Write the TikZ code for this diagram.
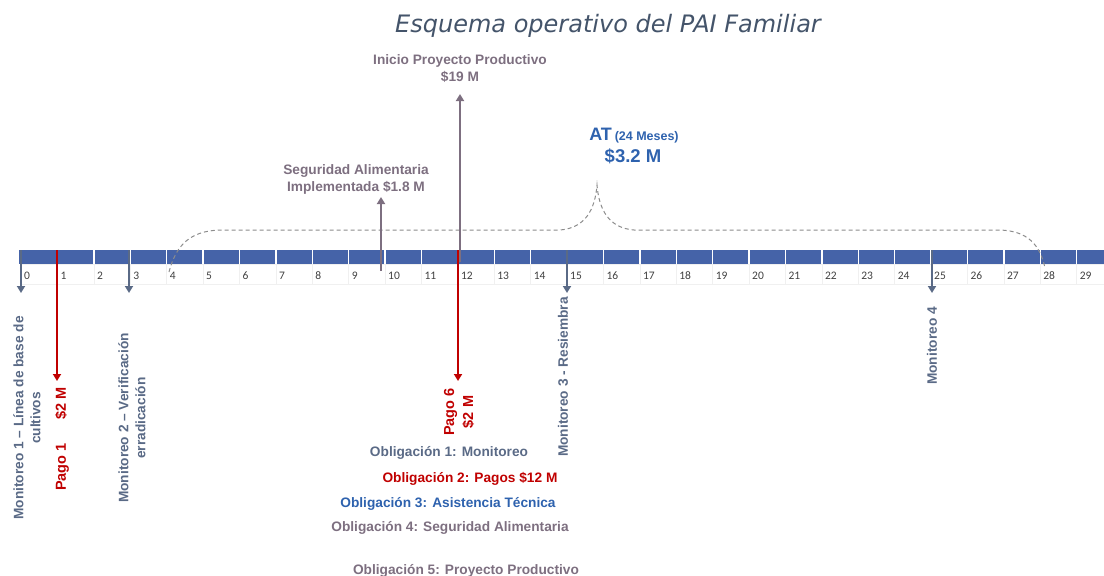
\documentclass[tikz,border=0pt]{standalone}
\usepackage{fontspec}
\setmainfont{Liberation Sans}
\newfontfamily\titlefont{DejaVu Sans}
\newfontfamily\numfont{Carlito}
\usetikzlibrary{arrows.meta}
\definecolor{barblue}{HTML}{4563A8}
\definecolor{mongray}{HTML}{5A6A86}
\definecolor{payred}{HTML}{C00000}
\definecolor{atblue}{HTML}{2E62AE}
\definecolor{mauve}{HTML}{7D6F80}
\definecolor{titlecol}{HTML}{44546A}
\definecolor{dashgray}{HTML}{8C8C8C}
\definecolor{numcol}{HTML}{404040}
\begin{document}
\begin{tikzpicture}[x=1pt,y=-1pt,
  lbl/.style={font=\bfseries\fontsize{13.7}{17}\selectfont, inner sep=0pt, align=center},
  paylbl/.style={font=\bfseries\fontsize{14.5}{19}\selectfont, inner sep=0pt, align=center, text=payred},
  cell/.style={fill=barblue, draw=none, inner sep=0pt, minimum width=35pt, minimum height=14pt},
  numcell/.style={draw=black!6, line width=0.6pt, inner sep=0pt, minimum width=36.4pt, minimum height=20pt},
  numlbl/.style={font=\numfont\fontsize{11.5}{13}\selectfont, text=numcol, inner sep=0pt, anchor=base west},
  tip/.style={-{Triangle[width=8pt,length=7pt]}},
  monarrow/.style={draw=mongray, line width=2pt, tip},
  payarrow/.style={draw=payred, line width=2pt, tip},
  mauvearrow/.style={draw=mauve, line width=2pt, tip},
  bracepath/.style={draw=dashgray, line width=1pt, dash pattern=on 4pt off 3pt}
]
\useasboundingbox (0,0) rectangle (1104,576);
\clip (0,0) rectangle (1104,576);

% title
\node[font=\titlefont\itshape\fontsize{24}{28}\selectfont, text=titlecol, inner sep=0pt, anchor=base] (title) at (608,32) {Esquema operativo del PAI Familiar};

% timeline cells
\node[cell, minimum width=37.8pt] (c0) at (37.4,257) {};
\foreach \i in {1,...,29} {
  \node[cell] (c\i) at ({21+36.4*\i+18.2},257) {};
}
\foreach \i in {0,...,29} {
  \node[numcell] (n\i) at ({21+36.4*\i+18.2},274) {};
  \node[numlbl] (t\i) at ({21+36.4*\i+3},279) {\i};
}

% dashed brace
\draw[bracepath] (169,272) .. controls (176,245) and (190,231) .. (220,230) -- (560,230)
  .. controls (585,228) and (595,210) .. (597,185)
  .. controls (599,210) and (609,228) .. (634,230) -- (1000,230)
  .. controls (1028,231) and (1040,245) .. (1045,268);

% arrow end points
\coordinate (m1s) at (21,250);  \coordinate (m1e) at (21,293);
\coordinate (p1s) at (57,250);  \coordinate (p1e) at (57,381);
\coordinate (m2s) at (129,250); \coordinate (m2e) at (129,293);
\coordinate (sas) at (381,271); \coordinate (sae) at (381,197);
\coordinate (ips) at (460,262); \coordinate (ipe) at (460,94);
\coordinate (p6s) at (458,250); \coordinate (p6e) at (458,381);
\coordinate (m3s) at (567,250); \coordinate (m3e) at (567,293);
\coordinate (m4s) at (932,250); \coordinate (m4e) at (932,293);

\draw[monarrow] (m1s) -- (m1e);
\draw[payarrow] (p1s) -- (p1e);
\draw[monarrow] (m2s) -- (m2e);
\draw[mauvearrow] (sas) -- (sae);
\draw[mauvearrow] (ips) -- (ipe);
\draw[payarrow] (p6s) -- (p6e);
\draw[monarrow] (m3s) -- (m3e);
\draw[monarrow] (m4s) -- (m4e);

% rotated labels
\node[lbl, text=mongray, rotate=90] (m1t) at (27,418) {Monitoreo 1 – Línea de base de\\cultivos};
\node[paylbl, rotate=90] (p1t) at (62,439) {Pago 1\hspace{24pt}\$2 M};
\node[lbl, text=mongray, rotate=90] (m2t) at (132,418) {Monitoreo 2 – Verificación\\erradicación};
\node[paylbl, rotate=90] (p6t) at (459,412) {Pago 6\\\$2 M};
\node[lbl, text=mongray, rotate=90] (m3t) at (563,377) {Monitoreo 3 - Resiembra};
\node[lbl, text=mongray, rotate=90] (m4t) at (932,346) {Monitoreo 4};

% top labels
\node[lbl, text=mauve] (sat) at (356,179) {Seguridad Alimentaria\\Implementada \$1.8 M};
\node[lbl, text=mauve] (ipt) at (460,69) {Inicio Proyecto Productivo\\\$19 M};
\node[inner sep=0pt, text=atblue, font=\bfseries, anchor=base] (at1) at (634,140) {{\fontsize{18}{20}\selectfont AT} {\fontsize{12.5}{15}\selectfont (24 Meses)}};
\node[inner sep=0pt, text=atblue, font=\bfseries\fontsize{18.5}{22}\selectfont, anchor=base] (at2) at (633,162) {\$3.2 M};

% obligations
\node[lbl, text=mongray] (o1) at (449,453) {Obligación 1: Monitoreo};
\node[lbl, text=payred] (o2) at (470,479) {Obligación 2: Pagos \$12 M};
\node[lbl, text=atblue] (o3) at (448,504) {Obligación 3: Asistencia Técnica};
\node[lbl, text=mauve] (o4) at (450,528) {Obligación 4: Seguridad Alimentaria};
\node[lbl, text=mauve, anchor=base] (o5) at (466,574) {Obligación 5: Proyecto Productivo};
\end{tikzpicture}
\end{document}
